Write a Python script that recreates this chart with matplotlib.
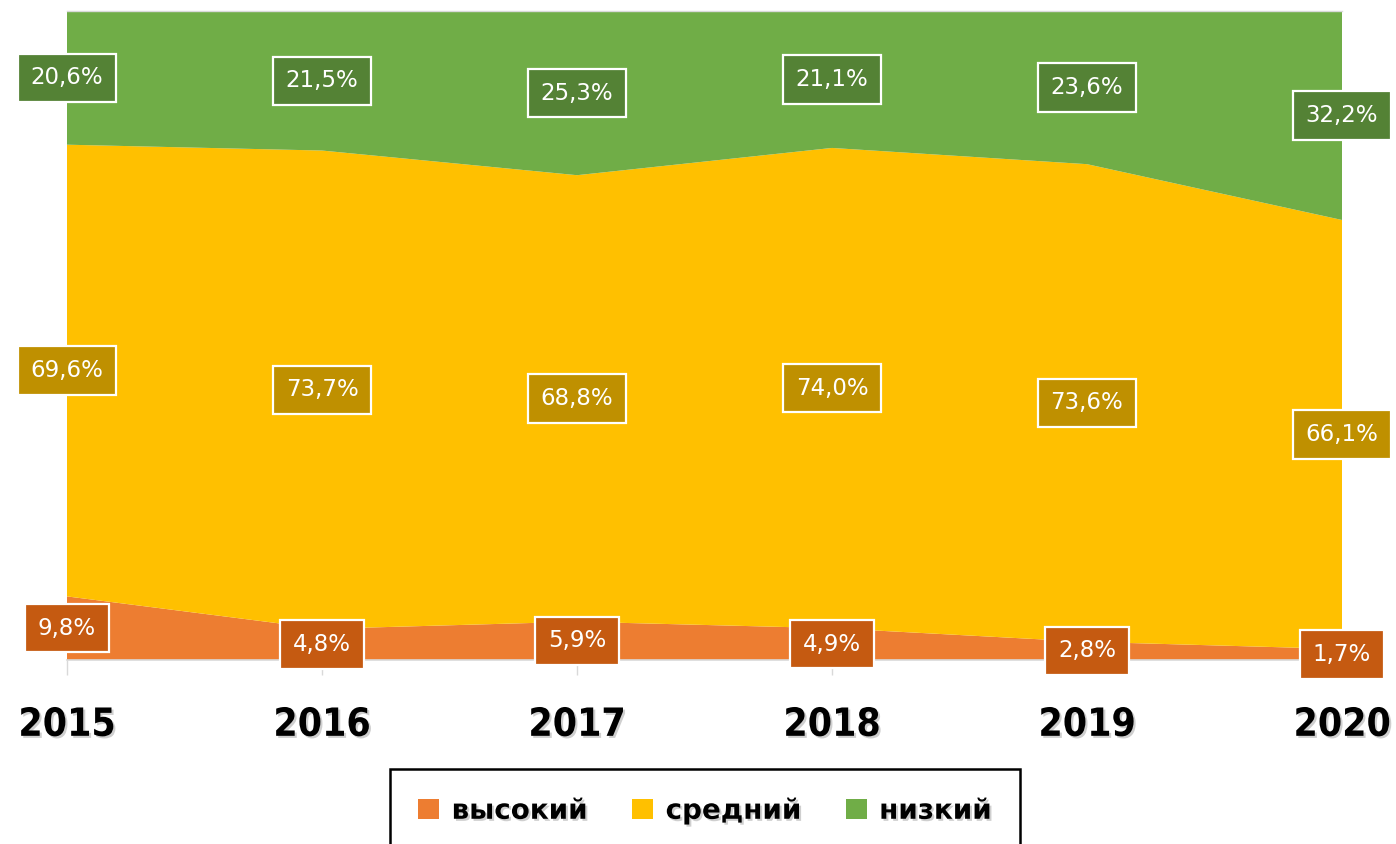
import matplotlib
matplotlib.use("Agg")
import matplotlib.pyplot as plt
import matplotlib.patheffects as pe
from matplotlib.patches import Patch
import numpy as np

years = ["2015", "2016", "2017", "2018", "2019", "2020"]
high = [9.8, 4.8, 5.9, 4.9, 2.8, 1.7]
medium = [69.6, 73.7, 68.8, 74.0, 73.6, 66.1]
low = [20.6, 21.5, 25.3, 21.1, 23.6, 32.2]
series_names = ["высокий", "средний", "низкий"]

colors = ["#ED7D31", "#FFC000", "#70AD47"]
label_colors = ["#C55A11", "#BF9000", "#548235"]

fig = plt.figure(figsize=(13.96, 8.44), dpi=100)
ax = fig.add_axes([67/1396, 1-660/844, (1342-67)/1396, (660-11)/844])

x = np.arange(len(years))
data = [np.array(high), np.array(medium), np.array(low)]
ax.stackplot(x, *data, colors=colors, linewidth=0)

ax.set_xlim(x[0], x[-1])
ax.set_ylim(0, 100)
ax.set_yticks([])
for s in ["left", "right"]:
    ax.spines[s].set_visible(False)
ax.spines["top"].set_color("#d9d9d9")
ax.spines["top"].set_linewidth(1)
ax.spines["bottom"].set_color("#d9d9d9")
ax.spines["bottom"].set_linewidth(1.2)

ax.set_xticks(x)
ax.set_xticklabels(years)
ax.tick_params(axis="x", length=11, width=1, color="#d9d9d9", pad=22)
shadow = [pe.withSimplePatchShadow(offset=(1.5, -1.5), shadow_rgbFace="#888888", alpha=0.4)]
for lbl in ax.get_xticklabels():
    lbl.set_fontfamily("DejaVu Sans")
    lbl.set_fontweight("bold")
    lbl.set_fontstretch("condensed")
    lbl.set_fontsize(28)
    lbl.set_color("black")
    lbl.set_path_effects(shadow)

bottom = np.zeros(len(years))
for vals, lc in zip(data, label_colors):
    centers = bottom + vals / 2
    for xi, yi, v in zip(x, centers, vals):
        txt = f"{v:.1f}%".replace(".", ",")
        ax.text(xi, yi, txt, ha="center", va="center", fontsize=16.5,
                color="white", family="DejaVu Sans", clip_on=False, zorder=5,
                bbox=dict(boxstyle="square,pad=0.55", facecolor=lc,
                          edgecolor="white", linewidth=1.6))
    bottom = bottom + vals

handles = [Patch(facecolor=c, edgecolor="none", label=n) for c, n in zip(colors, series_names)]
leg = fig.legend(handles=handles, loc="upper center", ncol=3,
                 bbox_to_anchor=(705/1396, 1-769/844),
                 prop=dict(family="DejaVu Sans", weight="bold", size=20),
                 frameon=True, fancybox=False, edgecolor="black", framealpha=1,
                 handlelength=0.75, handleheight=0.75, handletextpad=0.45,
                 columnspacing=1.6, borderpad=1.0, borderaxespad=0)
leg.get_frame().set_linewidth(1.8)
for t in leg.get_texts():
    t.set_path_effects(shadow)

fig.savefig("out.png", dpi=100)
